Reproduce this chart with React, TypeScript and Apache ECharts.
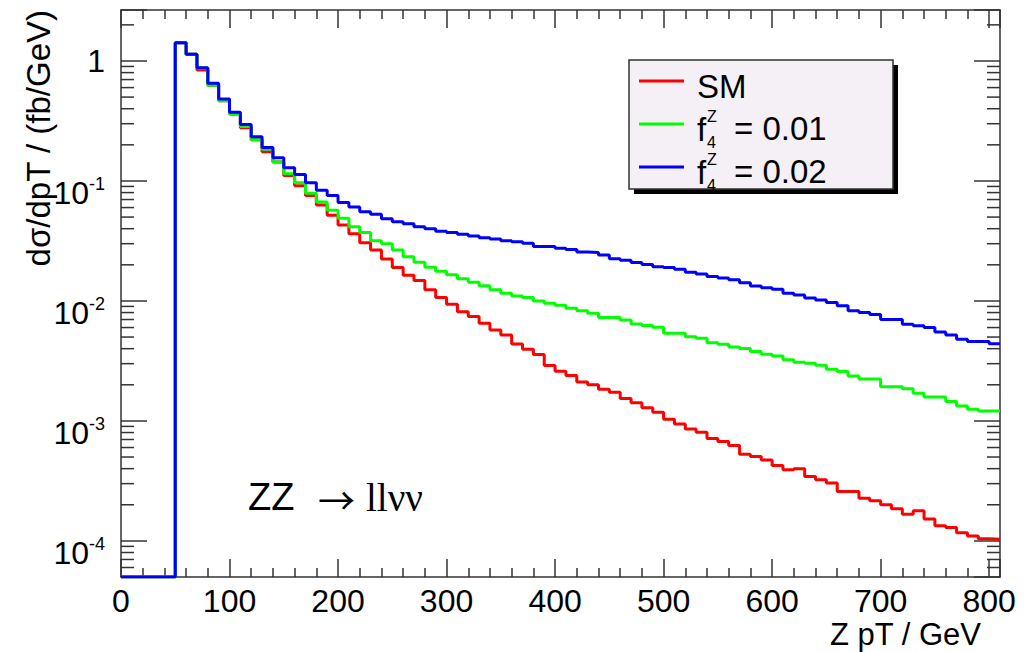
import React, { useEffect, useRef } from "react";
import * as echarts from "echarts";

// ---- data (ROOT histogram, 10 GeV bins starting at 50 GeV) ----
const BIN_START = 50;
const BIN_WIDTH = 10;
const X_MIN = 0;
const X_MAX = 810;
const Y_MIN = 5e-5;
const Y_MAX = 2.66;

const SM = [
  1.42, 1.14, 0.84, 0.627, 0.467, 0.361, 0.277, 0.22, 0.175, 0.144,
  0.111, 0.0914, 0.0755, 0.063, 0.0518, 0.043, 0.0363, 0.0306, 0.0266, 0.0224,
  0.019, 0.0164, 0.0148, 0.0124, 0.0107, 0.00938, 0.00814, 0.0074, 0.00651, 0.00573,
  0.00521, 0.00438, 0.00396, 0.00357, 0.00289, 0.00259, 0.00239, 0.00211, 0.002, 0.00184,
  0.00173, 0.00154, 0.00142, 0.00129, 0.00118, 0.00103, 0.000944, 0.000858, 0.000805, 0.000713,
  0.000673, 0.000623, 0.000528, 0.000504, 0.000473, 0.000424, 0.000391, 0.0004, 0.000344, 0.000323,
  0.000303, 0.000258, 0.000258, 0.000227, 0.000216, 0.0002, 0.000185, 0.000167, 0.000178, 0.000152,
  0.000134, 0.000129, 0.000117, 0.00011, 0.000104, 0.000103,
];

const F4_001 = [
  1.42, 1.14, 0.875, 0.627, 0.467, 0.361, 0.285, 0.22, 0.184, 0.144,
  0.115, 0.0968, 0.079, 0.0668, 0.057, 0.0489, 0.0416, 0.0371, 0.0318, 0.03,
  0.0266, 0.0234, 0.021, 0.0191, 0.0177, 0.0165, 0.0153, 0.0143, 0.0134, 0.0124,
  0.0116, 0.011, 0.0107, 0.01, 0.00957, 0.0092, 0.0087, 0.0083, 0.0079, 0.00726,
  0.00726, 0.00695, 0.00643, 0.00623, 0.00603, 0.00538, 0.00538, 0.00504, 0.00489, 0.00449,
  0.00435, 0.00414, 0.00401, 0.00378, 0.0036, 0.00348, 0.00323, 0.00308, 0.00303, 0.00291,
  0.0027, 0.00258, 0.00237, 0.00224, 0.00224, 0.00193, 0.00193, 0.00185, 0.0017, 0.00158,
  0.00158, 0.00145, 0.00133, 0.00125, 0.00121, 0.00121,
];

const F4_002 = [
  1.42, 1.14, 0.88, 0.652, 0.482, 0.373, 0.295, 0.234, 0.19, 0.156,
  0.129, 0.113, 0.0968, 0.0836, 0.0755, 0.066, 0.0607, 0.0555, 0.0527, 0.0485,
  0.0458, 0.044, 0.0416, 0.04, 0.0381, 0.0371, 0.036, 0.0348, 0.0337, 0.0329,
  0.0318, 0.0312, 0.0303, 0.0284, 0.0284, 0.0275, 0.0268, 0.0256, 0.0253, 0.0242,
  0.0225, 0.0218, 0.0209, 0.0201, 0.0193, 0.019, 0.0184, 0.0173, 0.0168, 0.016,
  0.0155, 0.015, 0.0142, 0.0133, 0.0129, 0.0125, 0.0116, 0.0112, 0.0106, 0.0102,
  0.0097, 0.0091, 0.0083, 0.008, 0.0077, 0.007, 0.007, 0.0064, 0.0062, 0.006,
  0.0055, 0.0052, 0.0048, 0.0046, 0.0046, 0.0044,
];

const X_TICK_LABELS = [0, 100, 200, 300, 400, 500, 600, 700, 800];
const Y_MINOR_MANTISSAS = [2, 3, 4, 5, 6, 7, 8, 9];
const Y_DECADES = [-5, -4, -3, -2, -1, 0];

const SERIES_NAMES = ["SM", "f4Z = 0.01", "f4Z = 0.02"];
const SERIES_COLORS = ["#ff0000", "#00ff00", "#0000ff"];
const LEGEND_VALUES = ["0.01", "0.02"];

const FONT = '"Liberation Sans", Arial, Helvetica, sans-serif';
const SERIF = '"Liberation Serif", "Times New Roman", serif';
const ARROW_FONT = '"Noto Sans CJK SC", "DejaVu Sans", sans-serif';
const FRAME = "#333333";

function toSteps(vals: number[]): number[][] {
  const pts: number[][] = [[X_MIN, Y_MIN]];
  vals.forEach((v, i) => pts.push([BIN_START + i * BIN_WIDTH, v]));
  pts.push([BIN_START + vals.length * BIN_WIDTH, vals[vals.length - 1]]);
  return pts;
}

function minorYTicks(): number[][] {
  const out: number[][] = [];
  Y_DECADES.forEach((d) => {
    Y_MINOR_MANTISSAS.forEach((m) => {
      const v = m * Math.pow(10, d);
      if (v > Y_MIN && v < Y_MAX) out.push([X_MIN, v]);
    });
  });
  return out;
}

function yLabel(v: number): string {
  const l = Math.log10(v);
  const r = Math.round(l);
  if (Math.abs(l - r) > 1e-6) return "";
  if (r === 0) return "{one|1}";
  return "{b|10}{e|" + r + "}";
}

function txt(x: number, y: number, text: string, font: string, z = 22): any {
  return {
    type: "text",
    x,
    y,
    z,
    style: { text, font, textAlign: "left", textVerticalAlign: "middle", fill: "#000" },
  };
}

export default function App() {
  const ref = useRef<HTMLDivElement>(null);
  useEffect(() => {
    if (!ref.current) return;
    const chart = echarts.init(ref.current, null, { renderer: "svg" });
    const xAxisCommon = {
      type: "value",
      min: X_MIN,
      max: X_MAX,
      interval: 100,
      splitLine: { show: false },
      axisLine: { show: true, onZero: false, lineStyle: { color: FRAME, width: 1.5 } },
      axisTick: { show: true, inside: true, length: 18, lineStyle: { color: FRAME, width: 1.5 } },
      minorTick: { show: true, splitNumber: 5, length: 9, lineStyle: { color: FRAME, width: 1.5 } },
    };
    const yAxisCommon = {
      type: "log",
      logBase: 10,
      min: Y_MIN,
      max: Y_MAX,
      splitLine: { show: false },
      axisLine: { show: true, onZero: false, lineStyle: { color: FRAME, width: 1.5 } },
      axisTick: { show: true, inside: true, length: 26, lineStyle: { color: FRAME, width: 1.5 } },
    };
    const legendTexts: any[] = [txt(697, 86, SERIES_NAMES[0], "33px " + FONT)];
    LEGEND_VALUES.forEach((val, j) => {
      const base = 124 + 43 * j;
      legendTexts.push(txt(697, base + 5, "f", "33px " + FONT));
      legendTexts.push(txt(707, base - 8, "Z", "16px " + FONT));
      legendTexts.push(txt(707, base + 18, "4", "16px " + FONT));
      legendTexts.push(txt(734, base + 4, "= " + val, "33px " + FONT));
    });
    const option: any = {
      animation: false,
      backgroundColor: "#ffffff",
      grid: { left: 121, right: 32, top: 10, bottom: 75, containLabel: false },
      xAxis: [
        {
          ...xAxisCommon,
          position: "bottom",
          axisLabel: {
            show: true,
            margin: 8,
            fontFamily: FONT,
            fontSize: 32,
            color: "#000",
            formatter: (v: number) => (X_TICK_LABELS.indexOf(v) >= 0 ? String(v) : ""),
          },
        },
        { ...xAxisCommon, position: "top", axisLabel: { show: false } },
      ],
      yAxis: [
        {
          ...yAxisCommon,
          position: "left",
          axisLabel: {
            show: true,
            margin: 16,
            color: "#000",
            fontFamily: FONT,
            formatter: yLabel,
            rich: {
              one: { fontFamily: FONT, fontSize: 32, lineHeight: 32, color: "#000" },
              b: {
                fontFamily: FONT,
                fontSize: 32,
                lineHeight: 32,
                verticalAlign: "top",
                padding: [12, 0, 0, 0],
                color: "#000",
              },
              e: {
                fontFamily: FONT,
                fontSize: 18,
                lineHeight: 18,
                verticalAlign: "top",
                padding: [10, 0, 16, 0],
                color: "#000",
              },
            },
          },
        },
        { ...yAxisCommon, position: "right", axisLabel: { show: false } },
      ],
      series: [
        ...[SM, F4_001, F4_002].map((vals, i) => ({
          name: SERIES_NAMES[i],
          type: "line",
          step: "end",
          xAxisIndex: 0,
          yAxisIndex: 0,
          data: toSteps(vals),
          symbol: "none",
          showSymbol: false,
          lineStyle: { color: SERIES_COLORS[i], width: 3 },
          itemStyle: { color: SERIES_COLORS[i] },
          z: 3 + i,
        })),
        {
          name: "yminor",
          type: "custom",
          xAxisIndex: 0,
          yAxisIndex: 0,
          silent: true,
          z: 10,
          data: minorYTicks(),
          renderItem: (params: any, api: any) => {
            const y = api.coord([api.value(0), api.value(1)])[1];
            const cs = params.coordSys;
            const style = { stroke: FRAME, lineWidth: 1.5 };
            return {
              type: "group",
              children: [
                { type: "line", shape: { x1: cs.x, y1: y, x2: cs.x + 13, y2: y }, style },
                { type: "line", shape: { x1: cs.x + cs.width - 13, y1: y, x2: cs.x + cs.width, y2: y }, style },
              ],
            };
          },
        },
      ],
      graphic: [
        {
          type: "text",
          x: 38,
          y: 10,
          rotation: Math.PI / 2,
          style: {
            text: "dσ/dpT / (fb/GeV)",
            font: "33px " + FONT,
            textAlign: "right",
            textVerticalAlign: "middle",
            fill: "#000",
          },
        },
        {
          type: "text",
          x: 981,
          y: 634,
          style: {
            text: "Z pT / GeV",
            font: "31px " + FONT,
            textAlign: "right",
            textVerticalAlign: "middle",
            fill: "#000",
          },
        },
        txt(248, 497, "ZZ", "38px " + FONT, 5),
        txt(318, 499, "→", "37px " + ARROW_FONT, 5),
        txt(366, 497, "llνν", "39px " + SERIF, 5),
        // legend box
        { type: "rect", shape: { x: 634, y: 65, width: 264, height: 129 }, style: { fill: "#000" }, z: 20 },
        {
          type: "rect",
          shape: { x: 629, y: 60, width: 264, height: 129 },
          style: { fill: "#f5f0f5", stroke: FRAME, lineWidth: 1.5 },
          z: 21,
        },
        ...SERIES_COLORS.map((c, i) => ({
          type: "line",
          shape: { x1: 639, y1: 81 + 43 * i, x2: 684, y2: 81 + 43 * i },
          style: { stroke: c, lineWidth: 3 },
          z: 22,
        })),
        ...legendTexts,
      ],
    };
    chart.setOption(option);
    return () => chart.dispose();
  }, []);
  return <div ref={ref} style={{ width: 1032, height: 652, position: "absolute", left: 0, top: 0 }} />;
}
